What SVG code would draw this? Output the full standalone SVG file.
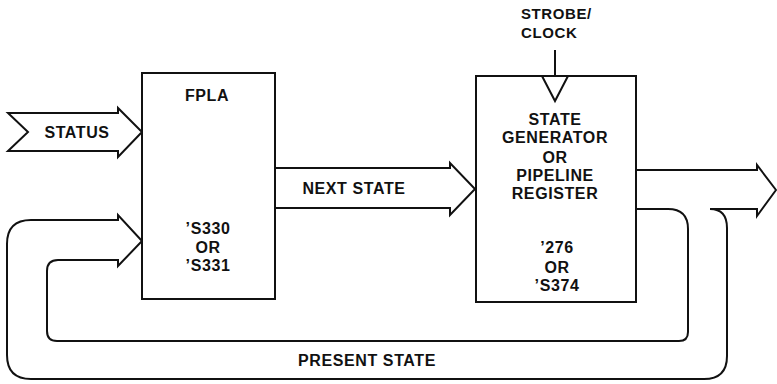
<svg xmlns="http://www.w3.org/2000/svg" width="777" height="384" viewBox="0 0 777 384">
<style>
.ln{fill:none;stroke:#111;stroke-width:2;stroke-linejoin:miter}
.bx{fill:#fff;stroke:#111;stroke-width:2}
.t{font-family:"Liberation Sans",Arial,sans-serif;font-weight:bold;font-size:16px;fill:#111;text-anchor:middle;letter-spacing:0.6px}
.s{font-family:"Liberation Sans",Arial,sans-serif;font-weight:bold;font-size:15px;fill:#111;letter-spacing:0.6px}
</style>
<rect width="777" height="384" fill="#fff"/>
<g id="connectors">
<path id="status-arrow" class="ln" d="M8,113 H118 V108 L142,132 L118,157 V151 H8 L28,132 Z"/>
<path id="next-state-arrow" class="ln" d="M275,168 H450 V163 L475,189 L450,215 V208 H275"/>
<path id="output-and-feedback" class="ln" d="M636,170 H757 V165 L776,190 L757,216 V209 H710 Q727,209 727,228 V356 Q727,379 704,379 H31 Q7,379 7,355 V244 Q7,220 31,220 H118 V215 L142,241 L118,266 V260 H58 Q47,260 47,271 V331 Q47,341 57,341 H679 Q688,341 688,332 V229 Q688,209 668,209 H636"/>
<line id="clock-line" class="ln" x1="555" y1="50" x2="555" y2="76"/>
</g>
<g id="fpla">
<rect class="bx" x="142" y="73" width="133" height="226"/>
<text class="t" x="207" y="101">FPLA</text>
<text class="t" x="208" y="234">’S330</text>
<text class="t" x="208" y="253">OR</text>
<text class="t" x="208" y="271">’S331</text>
</g>
<g id="register">
<rect class="bx" x="476" y="76" width="160" height="226"/>
<path class="ln" d="M542,76 L555,101 L568,76"/>
<text class="t" x="555" y="125">STATE</text>
<text class="t" x="555" y="143">GENERATOR</text>
<text class="t" x="555" y="163">OR</text>
<text class="t" x="555" y="181">PIPELINE</text>
<text class="t" x="555" y="199">REGISTER</text>
<text class="t" x="557" y="253">’276</text>
<text class="t" x="557" y="273">OR</text>
<text class="t" x="557" y="291">’S374</text>
</g>
<g id="labels">
<text class="t" x="77" y="138">STATUS</text>
<text class="t" x="354" y="194">NEXT STATE</text>
<text class="t" x="367" y="366">PRESENT STATE</text>
<text class="s" x="521" y="19">STROBE/</text>
<text class="s" x="521" y="38">CLOCK</text>
</g>
</svg>
